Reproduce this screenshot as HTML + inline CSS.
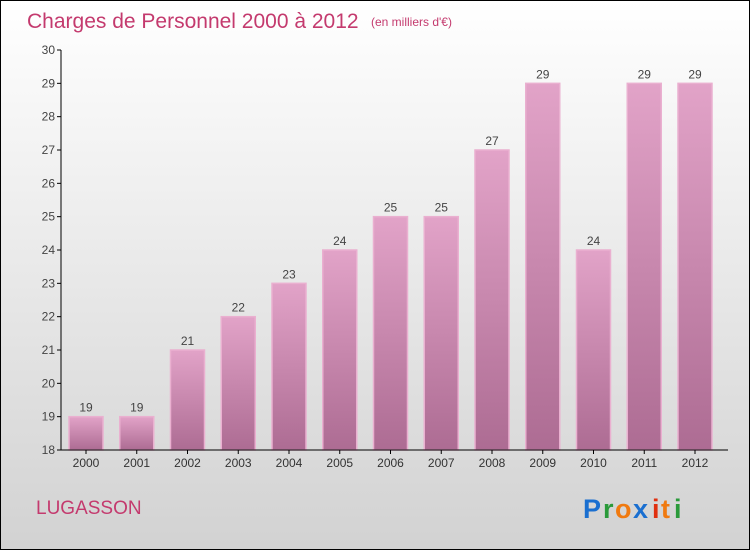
<!DOCTYPE html>
<html><head><meta charset="utf-8"><style>
body{margin:0}
#c{width:750px;height:550px;position:relative;box-sizing:border-box;border:1px solid #000;background:linear-gradient(#fff,#d2d2d2);font-family:"Liberation Sans",sans-serif;overflow:hidden}
</style></head><body>
<div id="c">
<svg width="748" height="548" style="position:absolute;left:0;top:0">
<defs><linearGradient id="bg" x1="0" y1="0" x2="0" y2="1"><stop offset="0" stop-color="#e2a3c8"/><stop offset="1" stop-color="#ad6c93"/></linearGradient></defs>
<text x="26" y="27" font-size="21" fill="#c43a6e">Charges de Personnel 2000 à 2012</text>
<text x="370" y="25" font-size="12" fill="#c43a6e">(en milliers d'€)</text>
<g id="plot"></g>
<text x="35" y="513" font-size="19" fill="#c43a6e">LUGASSON</text>
<g font-size="27" font-weight="bold" font-family="Liberation Sans,sans-serif">
<text x="582" y="517" fill="#1a6fd0">P</text><text x="602" y="517" fill="#2a9a3a">r</text><text x="614" y="517" fill="#f07a10">o</text><text x="632" y="517" fill="#1a6fd0">x</text><text x="651" y="517" fill="#e03010">i</text><text x="660" y="517" fill="#f07a10">t</text><text x="673" y="517" fill="#2a9a3a">i</text></g>
</svg>
</div>
<script>
const years=["2000","2001","2002","2003","2004","2005","2006","2007","2008","2009","2010","2011","2012"];
const values=[19,19,21,22,23,24,25,25,27,29,24,29,29];
const yTicks=[18,19,20,21,22,23,24,25,26,27,28,29,30];
const ns="http://www.w3.org/2000/svg";
const g=document.getElementById('plot');
const yMin=18,yMax=30,y0=449,y1=49;
const y=v=>y0-(v-yMin)/(yMax-yMin)*(y0-y1);
const x=i=>85+i*50.75;
function mk(t,a,p){const e=document.createElementNS(ns,t);for(const k in a)e.setAttribute(k,a[k]);(p||g).appendChild(e);return e;}
yTicks.forEach(v=>{
 const tk=mk('line',{x1:56,x2:60,y1:y(v),y2:y(v),stroke:'#000'});
 
 
 const t=mk('text',{x:54,y:y(v)+4,'font-size':12,fill:'#444','text-anchor':'end'});
 t.textContent=v;
 
 
});
values.forEach((v,i)=>{
 const r=mk('rect',{x:x(i)-17,y:y(v),width:34,height:y0-y(v),fill:'url(#bg)',stroke:'#eab0d0','stroke-width':1.5});
 
 
 const t=mk('text',{x:x(i),y:y(v)-5,'font-size':12,fill:'#444','text-anchor':'middle'});
 t.textContent=v;
 
 
 const l=mk('text',{x:x(i),y:466,'font-size':12,fill:'#333','text-anchor':'middle'});
 l.textContent=years[i];
 
 
 const tk=mk('line',{x1:x(i),x2:x(i),y1:y0,y2:y0+4,stroke:'#000'});
 
 
});
const ya=mk('line',{x1:60,x2:60,y1:y1,y2:y0,stroke:'#000'});


const xa=mk('line',{x1:60,x2:727,y1:y0,y2:y0,stroke:'#000'});


</script>
</body></html>
